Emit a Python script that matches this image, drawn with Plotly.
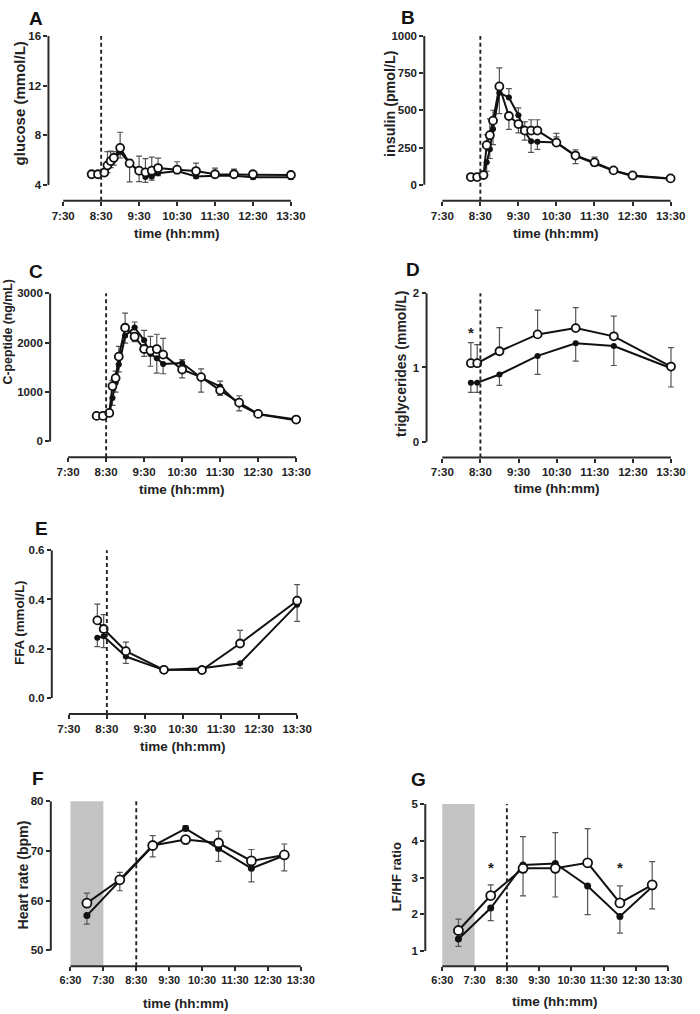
import plotly.graph_objects as go

W, H = 700, 1014

# ---------------- data (minutes relative to 8:30) ----------------
t_main = [-15, -5, 5, 10, 15, 20, 30, 45, 60, 70, 80, 90, 120, 150, 180, 210, 240, 300]
t_lipid = [-15, -5, 30, 90, 150, 210, 300]
t_hrv = [-90, -30, 30, 90, 150, 210, 270]

glucose_open = [4.86, 4.86, 5.0, 5.58, 5.92, 6.19, 6.99, 5.74, 5.15, 5.02, 5.15, 5.36, 5.23, 5.12, 4.86, 4.86, 4.86, 4.80]
glucose_filled = [4.86, 4.86, 4.95, 5.4, 5.8, 6.0, 6.67, 5.75, 5.1, 4.64, 4.69, 4.94, 5.12, 4.69, 4.75, 4.75, 4.61, 4.61]
glucose_open_err = [0.1, 0.1, 0.2, 1.1, 0.8, 0.5, 1.26, 1.5, 1.17, 1.1, 1.1, 0.8, 0.64, 0.64, 0.5, 0.42, 0.2, 0.2]
glucose_filled_err = [0.1, 0.1, 0.2, 0.4, 0.4, 0.4, 0.5, 0.3, 0.83, 0.44, 0.3, 0.2, 0.2, 0.15, 0.15, 0.15, 0.15, 0.15]

insulin_open = [51, 51, 65, 266, 333, 431, 661, 462, 408, 364, 364, 364, 283, 196, 150, 96, 62, 42]
insulin_filled = [51, 51, 60, 150, 239, 375, 618, 587, 467, 360, 292, 288, 283, 194, 145, 94, 58, 40]
insulin_open_err = [10, 10, 15, 70, 110, 70, 125, 90, 60, 58, 73, 73, 38, 38, 35, 15, 12, 10]
insulin_filled_err = [10, 10, 15, 60, 63, 105, 140, 60, 50, 60, 75, 51, 62, 53, 20, 12, 10, 8]

cpep_open = [517, 517, 577, 1120, 1282, 1718, 2302, 2121, 1872, 1839, 1870, 1758, 1456, 1302, 1034, 785, 557, 443]
cpep_filled = [517, 517, 560, 879, 1188, 1557, 2141, 2309, 2047, 1772, 1684, 1570, 1590, 1290, 1114, 750, 550, 430]
cpep_open_err = [30, 30, 40, 115, 140, 208, 295, 100, 150, 290, 300, 330, 168, 168, 100, 140, 40, 30]
cpep_filled_err = [30, 30, 40, 150, 190, 150, 150, 110, 200, 250, 300, 200, 68, 290, 107, 130, 30, 30]

tg_open = [1.058, 1.058, 1.219, 1.446, 1.531, 1.42, 1.013]
tg_filled = [0.795, 0.795, 0.906, 1.156, 1.326, 1.29, 0.99]
tg_open_err = [0.277, 0.25, 0.317, 0.326, 0.277, 0.272, 0.255]
tg_filled_err = [0.13, 0.13, 0.147, 0.25, 0.24, 0.263, 0.253]

ffa_open = [0.315, 0.28, 0.19, 0.114, 0.113, 0.221, 0.395]
ffa_filled = [0.244, 0.25, 0.168, 0.113, 0.12, 0.141, 0.379]
ffa_open_err = [0.066, 0.058, 0.037, 0.005, 0.005, 0.053, 0.065]
ffa_filled_err = [0.036, 0.046, 0.028, 0.005, 0.005, 0.02, 0.068]

hr_open = [59.5, 64.2, 71.1, 72.3, 71.6, 68.0, 69.2]
hr_filled = [57.0, 63.9, 71.0, 74.5, 70.5, 66.5, 69.1]
hr_open_err = [2.0, 1.5, 2.0, 0.9, 2.4, 2.3, 2.2]
hr_filled_err = [1.7, 1.9, 2.2, 0.6, 2.6, 2.7, 3.1]

lfhf_open = [1.56, 2.51, 3.25, 3.25, 3.40, 2.31, 2.80]
lfhf_filled = [1.33, 2.17, 3.34, 3.38, 2.77, 1.94, 2.75]
lfhf_open_err = [0.31, 0.29, 0.75, 0.78, 0.93, 0.46, 0.63]
lfhf_filled_err = [0.2, 0.34, 0.77, 0.84, 0.78, 0.45, 0.60]

x_ticks_short = [-60, 0, 60, 120, 180, 240, 300]
x_labels_short = ["7:30", "8:30", "9:30", "10:30", "11:30", "12:30", "13:30"]
x_ticks_long = [-120, -60, 0, 60, 120, 180, 240, 300]
x_labels_long = ["6:30", "7:30", "8:30", "9:30", "10:30", "11:30", "12:30", "13:30"]

panels = [
    dict(letter="A", ytitle="glucose (mmol/L)", t=t_main, o=glucose_open, f=glucose_filled,
         oe=glucose_open_err, fe=glucose_filled_err, yticks=[4, 8, 12, 16], yfmt=None,
         long=False, stars=[]),
    dict(letter="B", ytitle="insulin (pmol/L)", t=t_main, o=insulin_open, f=insulin_filled,
         oe=insulin_open_err, fe=insulin_filled_err, yticks=[0, 250, 500, 750, 1000], yfmt=None,
         long=False, stars=[]),
    dict(letter="C", ytitle="C-peptide (ng/mL)", t=t_main, o=cpep_open, f=cpep_filled,
         oe=cpep_open_err, fe=cpep_filled_err, yticks=[0, 1000, 2000, 3000], yfmt=None,
         long=False, stars=[]),
    dict(letter="D", ytitle="triglycerides (mmol/L)", t=t_lipid, o=tg_open, f=tg_filled,
         oe=tg_open_err, fe=tg_filled_err, yticks=[0, 1, 2], yfmt=None,
         long=False, stars=[(-15, 1.47)]),
    dict(letter="E", ytitle="FFA (mmol/L)", t=t_lipid, o=ffa_open, f=ffa_filled,
         oe=ffa_open_err, fe=ffa_filled_err, yticks=[0.0, 0.2, 0.4, 0.6], yfmt=".1f",
         long=False, stars=[]),
    dict(letter="F", ytitle="Heart rate (bpm)", t=t_hrv, o=hr_open, f=hr_filled,
         oe=hr_open_err, fe=hr_filled_err, yticks=[50, 60, 70, 80], yfmt=None,
         long=True, stars=[]),
    dict(letter="G", ytitle="LF/HF ratio", t=t_hrv, o=lfhf_open, f=lfhf_filled,
         oe=lfhf_open_err, fe=lfhf_filled_err, yticks=[1, 2, 3, 4, 5], yfmt=None,
         long=True, stars=[(-30, 3.27), (210, 3.27)]),
]

# ---------------- geometry (pixel placement of each panel) ----------------
geo = {
    "A": dict(yline=49.3, xt0=64.3, xt1=296.0, ytop=30.3, ybot=180.0, xaxis=196.0,
              ylab=(20, 98.3, 15), xlab_y=228.5, letter_xy=(37, 13)),
    "B": dict(yline=431.7, xt0=450.0, xt1=682.3, ytop=30.3, ybot=179.7, xaxis=196.0,
              ylab=(397, 98.3, 14.3), xlab_y=228.5, letter_xy=(415, 12)),
    "C": dict(yline=51.0, xt0=69.3, xt1=301.3, ytop=289.0, ybot=438.0, xaxis=454.0,
              ylab=(8.5, 328, 12.3), xlab_y=486.0, letter_xy=(37, 267)),
    "D": dict(yline=434.0, xt0=450.0, xt1=682.7, ytop=289.0, ybot=438.3, xaxis=454.3,
              ylab=(408, 360, 14), xlab_y=485.0, letter_xy=(420, 265)),
    "E": dict(yline=52.7, xt0=70.0, xt1=302.3, ytop=547.5, ybot=696.0, xaxis=712.3,
              ylab=(20, 621, 13.3), xlab_y=744.5, letter_xy=(42, 526)),
    "F": dict(yline=51.7, xt0=71.7, xt1=306.0, ytop=800.0, ybot=950.0, xaxis=966.0,
              ylab=(23.3, 873.8, 14.1), xlab_y=1003.3, letter_xy=(39, 777)),
    "G": dict(yline=432.7, xt0=450.0, xt1=680.0, ytop=802.7, ybot=950.7, xaxis=966.0,
              ylab=(403.3, 876, 13.1), xlab_y=1001.7, letter_xy=(426, 778)),
}

FONT = "Arial, Liberation Sans, Helvetica, sans-serif"
AX = "#2b2b2b"
ERR = "#555555"

fig = go.Figure()
shapes = []
annotations = []
layout = {}


def split_err(a, b, err):
    """bar drawn away from the other group"""
    plus = [e if v >= w else 0 for v, w, e in zip(a, b, err)]
    minus = [0 if v >= w else e for v, w, e in zip(a, b, err)]
    return plus, minus


for i, p in enumerate(panels, start=1):
    g = geo[p["letter"]]
    xs = "" if i == 1 else str(i)
    xname, yname = "x" + xs, "y" + xs
    xticks = x_ticks_long if p["long"] else x_ticks_short
    xlabels = x_labels_long if p["long"] else x_labels_short
    xt0v, xt1v = xticks[0], xticks[-1]
    sx = (g["xt1"] - g["xt0"]) / (xt1v - xt0v)
    xlo = xt0v - (g["xt0"] - g["yline"]) / sx
    xhi = xt1v + 3 / sx
    ytopv, ybotv = p["yticks"][-1], p["yticks"][0]
    sy = (g["ybot"] - g["ytop"]) / (ytopv - ybotv)
    ylo = ybotv - (g["xaxis"] - g["ybot"]) / sy
    yhi = ytopv

    tfs = 11 if p["long"] else 11.5
    tickfont = dict(family=FONT, size=tfs, color="#222", weight="bold")
    layout["xaxis" + xs] = dict(
        domain=[g["yline"] / W, (g["xt1"] + 3) / W], range=[xlo, xhi], anchor=yname,
        showgrid=False, zeroline=False, showline=False, ticks="outside", ticklen=4,
        tickwidth=2, tickcolor=AX, tickvals=xticks, ticktext=xlabels, tickangle=0,
        tickfont=tickfont, fixedrange=True)
    layout["yaxis" + xs] = dict(
        domain=[1 - g["xaxis"] / H, 1 - g["ytop"] / H], range=[ylo, yhi], anchor=xname,
        showgrid=False, zeroline=False, showline=False, ticks="outside", ticklen=4,
        tickwidth=2, tickcolor=AX, tickvals=p["yticks"],
        tickformat=p["yfmt"] if p["yfmt"] else "",
        tickfont=dict(family=FONT, size=11.5, color="#222", weight="bold"), fixedrange=True)

    # grey pre-period box
    if p["long"]:
        shapes.append(dict(type="rect", xref=xname, yref=yname + " domain", x0=-120, x1=-60,
                           y0=0, y1=1, fillcolor="#c3c3c3", line=dict(width=0), layer="below"))
    # axis lines (offset, Prism style)
    shapes.append(dict(type="line", xref=xname + " domain", yref=yname, x0=0, x1=0,
                       y0=ybotv, y1=ytopv, line=dict(color=AX, width=2)))
    shapes.append(dict(type="line", xref=xname, yref=yname + " domain", x0=xt0v, x1=xt1v,
                       y0=0, y1=0, line=dict(color=AX, width=2)))
    # meal line at 8:30
    shapes.append(dict(type="line", xref=xname, yref=yname + " domain", x0=0, x1=0,
                       y0=0, y1=1, line=dict(color="#222", width=1.9, dash="4px,3px")))

    fp, fm = split_err(p["f"], p["o"], p["fe"])
    op, om = split_err(p["o"], p["f"], p["oe"])
    big = p["long"]
    fig.add_trace(go.Scatter(
        x=p["t"], y=p["f"], mode="lines+markers", xaxis=xname, yaxis=yname,
        line=dict(color="#111", width=2), cliponaxis=False, showlegend=False,
        marker=dict(size=7 if big else 6, color="#111", line=dict(width=0)),
        error_y=dict(type="data", symmetric=False, array=fp, arrayminus=fm,
                     color=ERR, thickness=1.2, width=3)))
    fig.add_trace(go.Scatter(
        x=p["t"], y=p["o"], mode="lines+markers", xaxis=xname, yaxis=yname,
        line=dict(color="#111", width=2), cliponaxis=False, showlegend=False,
        marker=dict(size=9 if big else 8, color="white", line=dict(color="#111", width=1.8)),
        error_y=dict(type="data", symmetric=False, array=op, arrayminus=om,
                     color=ERR, thickness=1.2, width=3)))

    # titles
    annotations.append(dict(text="time (hh:mm)", xref=xname, yref="paper",
                            x=(xt0v + xt1v) / 2, y=1 - g["xlab_y"] / H,
                            showarrow=False, xanchor="center", yanchor="middle",
                            font=dict(family=FONT, size=13.5, color="#222", weight="bold")))
    lx, ly, ls = g["ylab"]
    annotations.append(dict(text=p["ytitle"], xref="paper", yref="paper",
                            x=lx / W, y=1 - ly / H,
                            textangle=-90, showarrow=False, xanchor="center", yanchor="middle",
                            font=dict(family=FONT, size=ls, color="#222", weight="bold")))
    annotations.append(dict(text=p["letter"], xref="paper", yref="paper",
                            x=g["letter_xy"][0] / W, y=1 - g["letter_xy"][1] / H,
                            showarrow=False, xanchor="center", yanchor="middle",
                            font=dict(family=FONT, size=19, color="#111", weight="bold")))
    for sxv, syv in p["stars"]:
        annotations.append(dict(text="*", xref=xname, yref=yname, x=sxv, y=syv,
                                showarrow=False, xanchor="center", yanchor="middle",
                                font=dict(family=FONT, size=15, color="#222", weight="bold")))

fig.update_layout(
    width=W, height=H, margin=dict(l=0, r=0, t=0, b=0),
    paper_bgcolor="white", plot_bgcolor="white",
    shapes=shapes, annotations=annotations, **layout)

fig.write_html("out.html", config={"displayModeBar": False},
               post_script="document.body.style.margin='0px';")
